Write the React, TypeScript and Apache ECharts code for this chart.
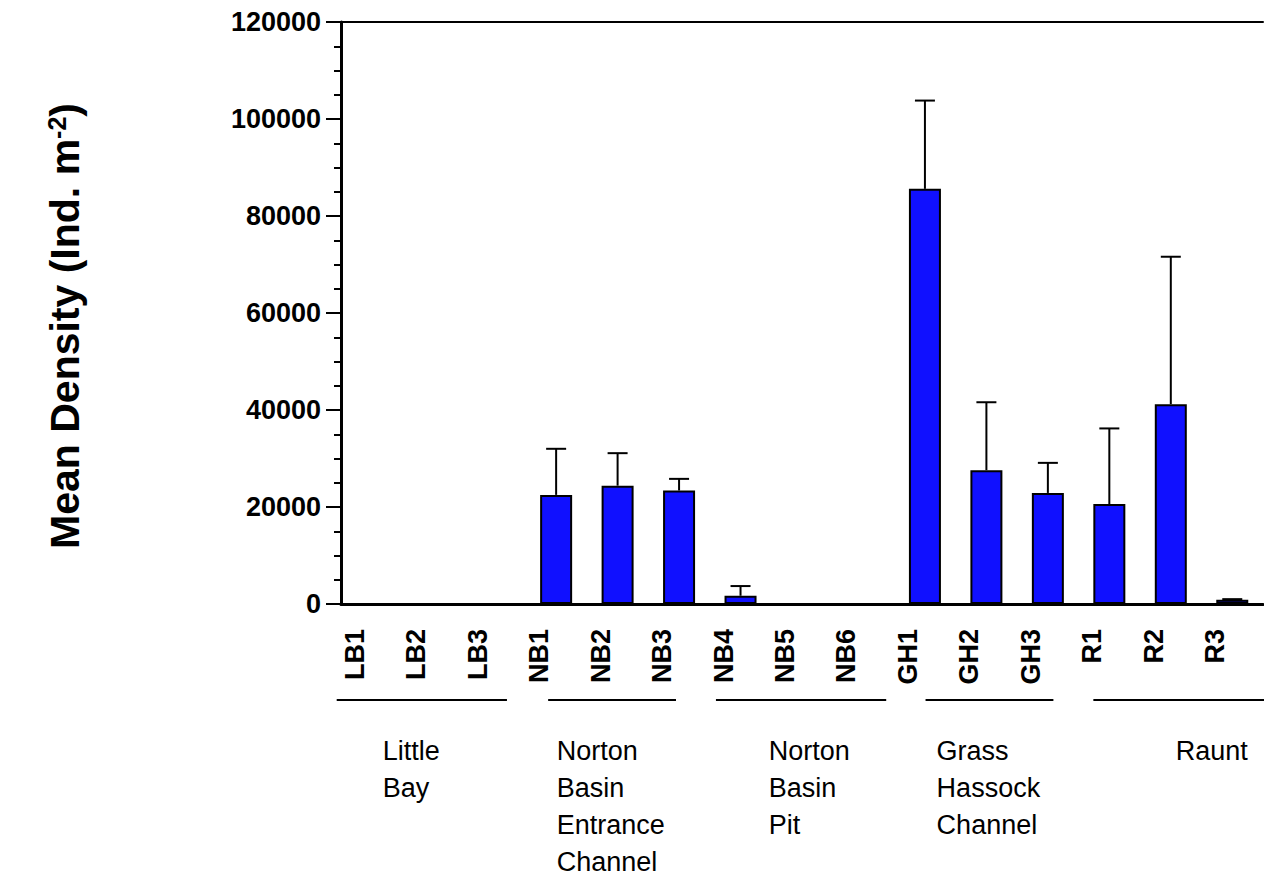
import React, { useEffect, useRef } from "react";
import * as echarts from "echarts";

// ---- data ----
const sites = ["LB1", "LB2", "LB3", "NB1", "NB2", "NB3", "NB4", "NB5", "NB6", "GH1", "GH2", "GH3", "R1", "R2", "R3"];
const meanDensity = [0, 0, 0, 22500, 24400, 23400, 1700, 0, 0, 85600, 27600, 22900, 20600, 41200, 900];
const upperError = [0, 0, 0, 9500, 6700, 2400, 2000, 0, 0, 18200, 14000, 6200, 15600, 30400, 100];
const yTicks = { min: 0, max: 120000, interval: 20000 };
const groupNames = ["Little\nBay", "Norton\nBasin\nEntrance\nChannel", "Norton\nBasin\nPit", "Grass\nHassock\nChannel", "Raunt"];

// ---- layout for group brackets (in category units, relative to first category centre) ----
const bracketExtents = [[-0.57, 2.2], [2.87, 4.95], [5.6, 8.37], [9.01, 11.09], [11.74, 14.52]];
const groupTextStart = [0.18, 3.01, 6.46, 9.19, 13.08];

const FONT = "'Liberation Sans', Arial, Helvetica, sans-serif";

export default function App() {
  const ref = useRef<HTMLDivElement>(null);
  useEffect(() => {
    if (!ref.current) return;
    const chart = echarts.init(ref.current, undefined, { renderer: "svg" });
    const errData = sites
      .map((_, i) => [i, meanDensity[i] + upperError[i], meanDensity[i]])
      .filter((d) => d[1] > d[2]);
    chart.setOption({
      animation: false,
      backgroundColor: "#ffffff",
      grid: { left: 341, right: 1, top: 22, bottom: 278 },
      xAxis: [
        {
          type: "category",
          data: sites,
          position: "bottom",
          boundaryGap: true,
          axisLine: { show: true, lineStyle: { color: "#000", width: 3 } },
          axisTick: { show: false },
          axisLabel: {
            rotate: 90,
            margin: 25,
            color: "#000",
            fontSize: 27,
            fontWeight: "bold",
            fontFamily: FONT,
            formatter: (v: string) => `{t|${v}}\n{g| }`,
            rich: {
              t: { fontSize: 27, fontWeight: "bold", fontFamily: FONT, color: "#000", lineHeight: 30 },
              g: { fontSize: 10, lineHeight: 34 },
            },
          },
        },
        {
          type: "category",
          data: sites,
          position: "top",
          axisLine: { show: true, lineStyle: { color: "#000", width: 2 } },
          axisTick: { show: false },
          axisLabel: { show: false },
        },
      ],
      yAxis: {
        type: "value",
        min: yTicks.min,
        max: yTicks.max,
        interval: yTicks.interval,
        axisLine: { show: true, lineStyle: { color: "#000", width: 3 } },
        axisTick: { show: true, length: 15, lineStyle: { color: "#000", width: 2 } },
        minorTick: { show: true, splitNumber: 4, length: 7, lineStyle: { color: "#000", width: 2 } },
        splitLine: { show: false },
        axisLabel: {
          margin: 20,
          color: "#000",
          fontSize: 27,
          fontWeight: "bold",
          fontFamily: FONT,
          formatter: (v: number) => String(v),
        },
        name: "{b|Mean Density (Ind. m}{sup|-2}{b|)}{g| }",
        nameLocation: "middle",
        nameRotate: 90,
        nameGap: 256,
        nameTextStyle: {
          color: "#000",
          fontSize: 41,
          fontWeight: "bold",
          fontFamily: FONT,
          rich: {
            b: { fontSize: 41, fontWeight: "bold", fontFamily: FONT, color: "#000" },
            sup: {
              fontSize: 25,
              fontWeight: "bold",
              fontFamily: FONT,
              color: "#000",
              verticalAlign: "top",
              padding: [0, 0, 16, 0],
            },
            g: { fontSize: 10, width: 26 },
          },
        },
      },
      series: [
        {
          type: "bar",
          data: meanDensity,
          barWidth: 32,
          itemStyle: { color: "#1010ff", borderColor: "#000", borderWidth: 2 },
          z: 2,
        },
        {
          type: "custom",
          data: errData,
          z: 1,
          renderItem: (params: any, api: any) => {
            const x = api.value(0);
            const top = api.coord([x, api.value(1)]);
            const base = api.coord([x, api.value(2)]);
            return {
              type: "group",
              children: [
                { type: "line", shape: { x1: top[0], y1: top[1], x2: base[0], y2: base[1] }, style: { stroke: "#000", lineWidth: 2 } },
                { type: "line", shape: { x1: top[0] - 10, y1: top[1], x2: top[0] + 10, y2: top[1] }, style: { stroke: "#000", lineWidth: 2 } },
              ],
            };
          },
        },
        {
          type: "custom",
          data: groupNames.map((_, i) => [i, 0]),
          clip: false,
          silent: true,
          renderItem: (params: any, api: any) => {
            const i = params.dataIndex;
            const origin = api.coord([0, 0]);
            const band = api.size([1, 0])[0];
            const [s, e] = bracketExtents[i];
            const lineY = origin[1] + 96;
            return {
              type: "group",
              children: [
                {
                  type: "line",
                  shape: { x1: origin[0] + s * band, y1: lineY, x2: origin[0] + e * band, y2: lineY },
                  style: { stroke: "#000", lineWidth: 2 },
                },
                {
                  type: "text",
                  x: origin[0] + groupTextStart[i] * band,
                  y: origin[1] + 128,
                  style: {
                    text: groupNames[i],
                    fill: "#000",
                    fontSize: 27,
                    fontFamily: FONT,
                    lineHeight: 37,
                    align: "left",
                    verticalAlign: "top",
                  },
                },
              ],
            };
          },
        },
      ],
    });
    return () => chart.dispose();
  }, []);
  return <div ref={ref} style={{ position: "absolute", left: 0, top: 0, width: 1264, height: 882 }} />;
}
